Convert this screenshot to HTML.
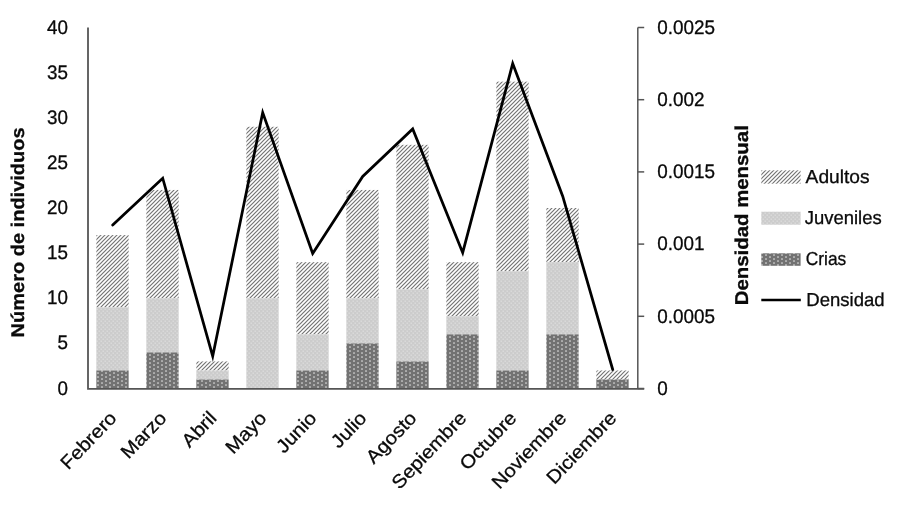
<!DOCTYPE html>
<html lang="es"><head><meta charset="utf-8"><title>Densidad mensual</title>
<style>html,body{margin:0;padding:0;background:#fff;}body{width:900px;height:506px;overflow:hidden;}svg{display:block;filter:grayscale(1);}text{font-family:"Liberation Sans",Arial,sans-serif;fill:#0a0a0a;stroke:#0a0a0a;stroke-width:0.3px;text-rendering:geometricPrecision;}</style>
</head><body>
<svg width="900" height="506" viewBox="0 0 900 506">
<defs>
<pattern id="pa" width="4" height="4" patternUnits="userSpaceOnUse"><rect width="4" height="4" fill="#fff"/><path d="M-1,1 L1,-1 M-1,5 L5,-1 M3,5 L5,3" stroke="#747474" stroke-width="1.2" fill="none"/></pattern>
<pattern id="pj" width="4" height="4" patternUnits="userSpaceOnUse"><rect width="4" height="4" fill="#cccccc"/><rect x="0.5" y="0.5" width="1.4" height="1.4" fill="#dcdcdc"/><rect x="2.5" y="2.5" width="1.4" height="1.4" fill="#dcdcdc"/></pattern>
<pattern id="pc" width="8" height="4" patternUnits="userSpaceOnUse"><rect width="8" height="4" fill="#727272"/><rect x="1.2" y="0.3" width="1.6" height="1.5" fill="#cdcdcd"/><rect x="5.2" y="2.3" width="1.6" height="1.5" fill="#cdcdcd"/></pattern>
</defs>
<rect width="900" height="506" fill="#fff"/>
<rect x="96.35" y="235.07" width="32.3" height="72.20" fill="url(#pa)"/>
<rect x="96.35" y="307.27" width="32.3" height="63.18" fill="url(#pj)"/>
<rect x="96.35" y="370.45" width="32.3" height="18.05" fill="url(#pc)"/>
<rect x="146.35" y="189.95" width="32.3" height="108.30" fill="url(#pa)"/>
<rect x="146.35" y="298.25" width="32.3" height="54.15" fill="url(#pj)"/>
<rect x="146.35" y="352.40" width="32.3" height="36.10" fill="url(#pc)"/>
<rect x="196.35" y="361.43" width="32.3" height="9.02" fill="url(#pa)"/>
<rect x="196.35" y="370.45" width="32.3" height="9.03" fill="url(#pj)"/>
<rect x="196.35" y="379.48" width="32.3" height="9.02" fill="url(#pc)"/>
<rect x="246.35" y="126.77" width="32.3" height="171.48" fill="url(#pa)"/>
<rect x="246.35" y="298.25" width="32.3" height="90.25" fill="url(#pj)"/>
<rect x="296.35" y="262.15" width="32.3" height="72.20" fill="url(#pa)"/>
<rect x="296.35" y="334.35" width="32.3" height="36.10" fill="url(#pj)"/>
<rect x="296.35" y="370.45" width="32.3" height="18.05" fill="url(#pc)"/>
<rect x="346.35" y="189.95" width="32.3" height="108.30" fill="url(#pa)"/>
<rect x="346.35" y="298.25" width="32.3" height="45.12" fill="url(#pj)"/>
<rect x="346.35" y="343.38" width="32.3" height="45.12" fill="url(#pc)"/>
<rect x="396.35" y="144.82" width="32.3" height="144.40" fill="url(#pa)"/>
<rect x="396.35" y="289.23" width="32.3" height="72.20" fill="url(#pj)"/>
<rect x="396.35" y="361.43" width="32.3" height="27.07" fill="url(#pc)"/>
<rect x="446.35" y="262.15" width="32.3" height="54.15" fill="url(#pa)"/>
<rect x="446.35" y="316.30" width="32.3" height="18.05" fill="url(#pj)"/>
<rect x="446.35" y="334.35" width="32.3" height="54.15" fill="url(#pc)"/>
<rect x="496.35" y="81.65" width="32.3" height="189.53" fill="url(#pa)"/>
<rect x="496.35" y="271.18" width="32.3" height="99.27" fill="url(#pj)"/>
<rect x="496.35" y="370.45" width="32.3" height="18.05" fill="url(#pc)"/>
<rect x="546.35" y="208.00" width="32.3" height="54.15" fill="url(#pa)"/>
<rect x="546.35" y="262.15" width="32.3" height="72.20" fill="url(#pj)"/>
<rect x="546.35" y="334.35" width="32.3" height="54.15" fill="url(#pc)"/>
<rect x="596.35" y="370.45" width="32.3" height="9.03" fill="url(#pa)"/>
<rect x="596.35" y="379.48" width="32.3" height="9.02" fill="url(#pc)"/>
<path d="M88,27.5 V388.9 H644.2" stroke="#555" stroke-width="1.8" fill="none"/>
<path d="M637.8,27.5 V388.5" stroke="#555" stroke-width="1.5" fill="none"/>
<path d="M637.8,388.50 H644.2" stroke="#555" stroke-width="1.5"/>
<path d="M637.8,316.30 H644.2" stroke="#555" stroke-width="1.5"/>
<path d="M637.8,244.10 H644.2" stroke="#555" stroke-width="1.5"/>
<path d="M637.8,171.90 H644.2" stroke="#555" stroke-width="1.5"/>
<path d="M637.8,99.70 H644.2" stroke="#555" stroke-width="1.5"/>
<path d="M637.8,27.50 H644.2" stroke="#555" stroke-width="1.5"/>
<polyline points="112.7,225.0 162.7,178.2 212.7,356.2 262.7,112.6 312.7,253.5 362.7,176.5 412.7,128.9 462.7,252.7 512.7,63.6 562.7,196.2 612.7,369.5" fill="none" stroke="#000" stroke-width="2.75" stroke-linejoin="miter" stroke-miterlimit="10" stroke-linecap="round"/>
<text transform="translate(68,394.50) scale(0.96,1)" font-size="19.6" text-anchor="end">0</text>
<text transform="translate(68,349.38) scale(0.96,1)" font-size="19.6" text-anchor="end">5</text>
<text transform="translate(68,304.25) scale(0.96,1)" font-size="19.6" text-anchor="end">10</text>
<text transform="translate(68,259.12) scale(0.96,1)" font-size="19.6" text-anchor="end">15</text>
<text transform="translate(68,214.00) scale(0.96,1)" font-size="19.6" text-anchor="end">20</text>
<text transform="translate(68,168.88) scale(0.96,1)" font-size="19.6" text-anchor="end">25</text>
<text transform="translate(68,123.75) scale(0.96,1)" font-size="19.6" text-anchor="end">30</text>
<text transform="translate(68,78.62) scale(0.96,1)" font-size="19.6" text-anchor="end">35</text>
<text transform="translate(68,33.50) scale(0.96,1)" font-size="19.6" text-anchor="end">40</text>
<text transform="translate(657.3,394.80) scale(0.965,1)" font-size="19.6">0</text>
<text transform="translate(657.3,322.60) scale(0.965,1)" font-size="19.6">0.0005</text>
<text transform="translate(657.3,250.40) scale(0.965,1)" font-size="19.6">0.001</text>
<text transform="translate(657.3,178.20) scale(0.965,1)" font-size="19.6">0.0015</text>
<text transform="translate(657.3,106.00) scale(0.965,1)" font-size="19.6">0.002</text>
<text transform="translate(657.3,33.80) scale(0.965,1)" font-size="19.6">0.0025</text>
<text transform="translate(117.7,419) rotate(-46.2) scale(1.085,1)" font-size="18.8" text-anchor="end">Febrero</text>
<text transform="translate(167.7,419) rotate(-46.2) scale(1.085,1)" font-size="18.8" text-anchor="end">Marzo</text>
<text transform="translate(217.7,419) rotate(-46.2) scale(1.085,1)" font-size="18.8" text-anchor="end">Abril</text>
<text transform="translate(267.7,419) rotate(-46.2) scale(1.085,1)" font-size="18.8" text-anchor="end">Mayo</text>
<text transform="translate(317.7,419) rotate(-46.2) scale(1.085,1)" font-size="18.8" text-anchor="end">Junio</text>
<text transform="translate(367.7,419) rotate(-46.2) scale(1.085,1)" font-size="18.8" text-anchor="end">Julio</text>
<text transform="translate(417.7,419) rotate(-46.2) scale(1.085,1)" font-size="18.8" text-anchor="end">Agosto</text>
<text transform="translate(467.7,419) rotate(-46.2) scale(1.085,1)" font-size="18.8" text-anchor="end">Sepiembre</text>
<text transform="translate(517.7,419) rotate(-46.2) scale(1.085,1)" font-size="18.8" text-anchor="end">Octubre</text>
<text transform="translate(567.7,419) rotate(-46.2) scale(1.085,1)" font-size="18.8" text-anchor="end">Noviembre</text>
<text transform="translate(617.7,419) rotate(-46.2) scale(1.085,1)" font-size="18.8" text-anchor="end">Diciembre</text>
<text transform="translate(23.6,232.4) rotate(-90)" font-size="18.4" font-weight="bold" text-anchor="middle" textLength="210" lengthAdjust="spacingAndGlyphs" stroke-width="0.2">Número de individuos</text>
<text transform="translate(748.4,215.2) rotate(-90)" font-size="18.6" font-weight="bold" text-anchor="middle" textLength="180" lengthAdjust="spacingAndGlyphs" stroke-width="0.2">Densidad mensual</text>
<rect x="761.3" y="170.3" width="39.3" height="13.4" fill="url(#pa)"/>
<rect x="761.3" y="211.7" width="39.3" height="13" fill="url(#pj)"/>
<rect x="761.3" y="253.3" width="39.3" height="12.5" fill="url(#pc)"/>
<path d="M761.3,300 H800.8" stroke="#000" stroke-width="2.5"/>
<text x="805.6" y="182.9" font-size="18.8" textLength="64" lengthAdjust="spacingAndGlyphs">Adultos</text>
<text x="804.7" y="224.2" font-size="18.8" textLength="77" lengthAdjust="spacingAndGlyphs">Juveniles</text>
<text x="805.8" y="265.2" font-size="18.8" textLength="40.5" lengthAdjust="spacingAndGlyphs">Crias</text>
<text x="806.3" y="305.9" font-size="18.8" textLength="78.3" lengthAdjust="spacingAndGlyphs">Densidad</text>
</svg></body></html>
